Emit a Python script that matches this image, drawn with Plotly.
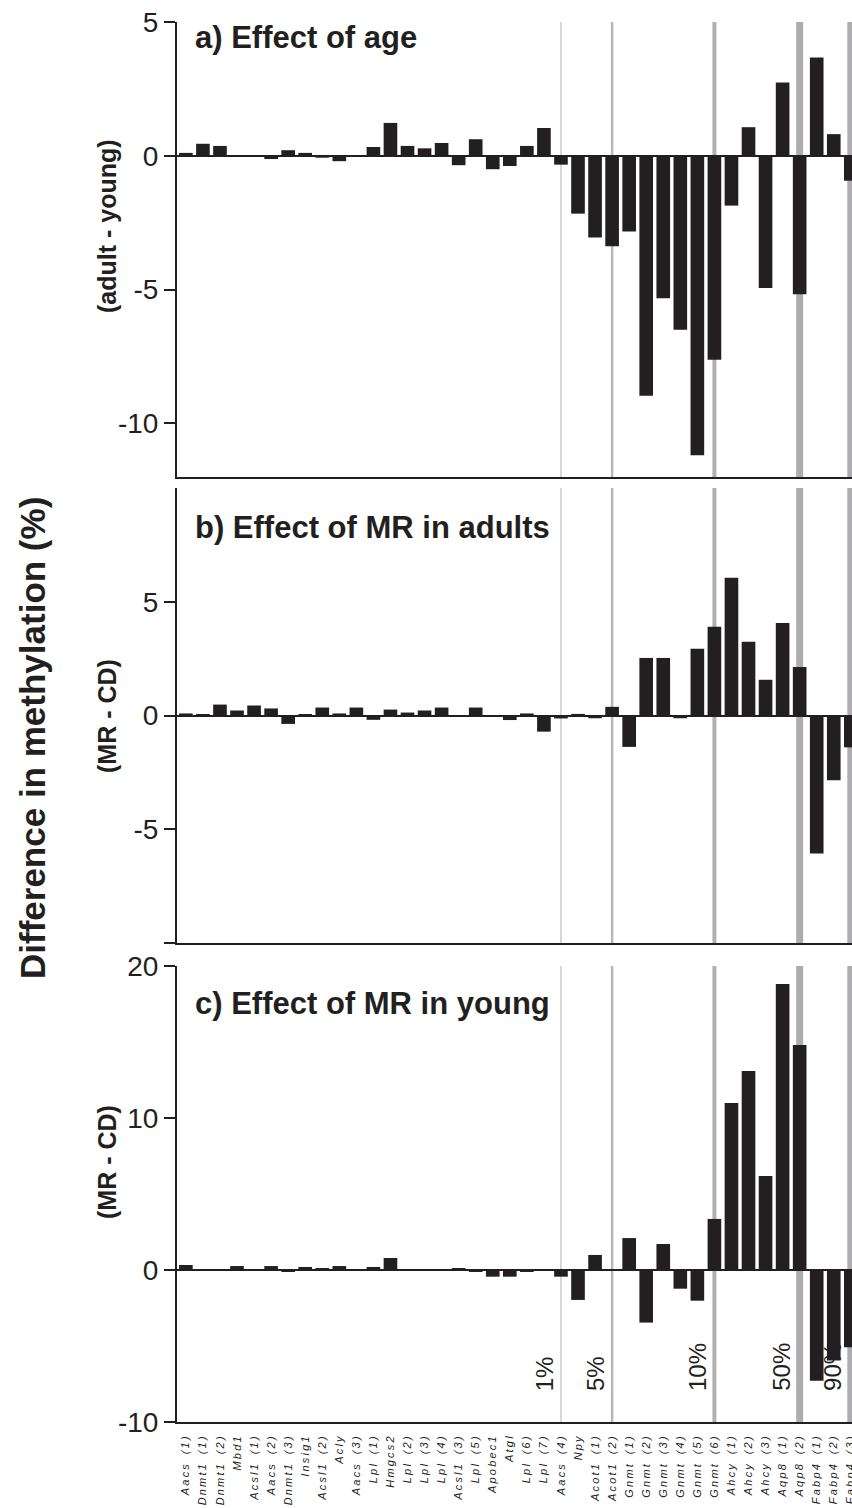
import plotly.graph_objects as go

genes = ["Aacs (1)", "Dnmt1 (1)", "Dnmt1 (2)", "Mbd1", "Acsl1 (1)", "Aacs (2)", "Dnmt1 (3)", "Insig1",
         "Acsl1 (2)", "Acly", "Aacs (3)", "Lpl (1)", "Hmgcs2", "Lpl (2)", "Lpl (3)", "Lpl (4)",
         "Acsl1 (3)", "Lpl (5)", "Apobec1", "Atgl", "Lpl (6)", "Lpl (7)", "Aacs (4)", "Npy",
         "Acot1 (1)", "Acot1 (2)", "Gnmt (1)", "Gnmt (2)", "Gnmt (3)", "Gnmt (4)", "Gnmt (5)", "Gnmt (6)",
         "Ahcy (1)", "Ahcy (2)", "Ahcy (3)", "Aqp8 (1)", "Aqp8 (2)", "Fabp4 (1)", "Fabp4 (2)", "Fabp4 (3)"]

age_effect = [0.11, 0.45, 0.37, 0.0, 0.0, -0.12, 0.21, 0.11, -0.07, -0.2, 0.0, 0.33, 1.23, 0.37, 0.28, 0.48,
              -0.35, 0.62, -0.5, -0.38, 0.37, 1.04, -0.33, -2.16, -3.05, -3.38, -2.83, -8.96, -5.32, -6.5,
              -11.19, -7.62, -1.86, 1.07, -4.94, 2.74, -5.17, 3.67, 0.81, -0.93]

mr_adults = [0.09, 0.05, 0.48, 0.22, 0.44, 0.31, -0.37, 0.05, 0.35, 0.09, 0.35, -0.19, 0.26, 0.13, 0.22, 0.35,
             0.0, 0.35, 0.0, -0.2, 0.09, -0.71, -0.13, 0.07, -0.12, 0.38, -1.38, 2.53, 2.53, -0.12,
             2.93, 3.9, 6.06, 3.24, 1.57, 4.07, 2.13, -6.07, -2.85, -1.4]

mr_young = [0.33, 0.0, 0.0, 0.26, 0.0, 0.26, -0.1, 0.2, 0.13, 0.26, 0.0, 0.2, 0.79, 0.0, 0.0, 0.0,
            0.13, -0.1, -0.44, -0.44, -0.1, 0.0, -0.44, -1.97, 0.99, 0.0, 2.1, -3.46, 1.71, -1.23,
            -2.02, 3.36, 10.99, 13.09, 6.18, 18.82, 14.8, -7.28, -5.96, -5.09]

threshold_genes = ["Aacs (4)", "Acot1 (2)", "Gnmt (6)", "Aqp8 (2)", "Fabp4 (3)"]
threshold_labels = ["1%", "5%", "10%", "50%", "90%"]
threshold_widths = [1.5, 2.5, 4, 7, 7]
threshold_colors = ["#cbcbcb", "#b8b8b8", "#b0b0b2", "#adadb0", "#adadb0"]

panel_titles = ["a) Effect of age", "b) Effect of MR in adults", "c) Effect of MR in young"]
panel_ylabels = ["(adult - young)", "(MR - CD)", "(MR - CD)"]

W, H = 852, 1508
INK = "#231f20"
FONT = "Liberation Sans, Arial, sans-serif"


def py(px):
    return 1 - px / H


# panel pixel extents (top, bottom)
panels = [(22, 477), (488, 943), (966, 1422)]
yranges = [[-12, 5], [-10, 10], [-10, 20]]
yticks = [([-10, -5, 0, 5], ["-10", "-5", "0", "5"]),
          ([-10, -5, 0, 5], ["", "-5", "0", "5"]),
          ([-10, 0, 10, 20], ["-10", "0", "10", "20"])]
series = [age_effect, mr_adults, mr_young]

fig = go.Figure()
x_dom = [177 / W, 1.0]
xrange = [-0.52, 39.07]

spaced = ["\u2009".join(list(g.replace(" ", "\u2002"))) for g in genes]

for k in range(3):
    sfx = "" if k == 0 else str(k + 1)
    fig.add_trace(go.Bar(x=genes, y=series[k], marker=dict(color=INK, line=dict(width=0)),
                         width=0.8, xaxis="x" + sfx, yaxis="y" + sfx, showlegend=False))
    top, bot = panels[k]
    fig.layout["yaxis" + sfx] = dict(
        domain=[py(bot), py(top)], range=yranges[k], anchor="x" + sfx,
        showline=True, linecolor=INK, linewidth=2, ticks="outside", ticklen=11, tickwidth=2,
        tickcolor=INK, tickmode="array", tickvals=yticks[k][0], ticktext=yticks[k][1],
        tickfont=dict(family=FONT, size=28, color=INK), showgrid=False,
        zeroline=True, zerolinecolor=INK, zerolinewidth=2, automargin=False)
    xa = dict(domain=x_dom, range=xrange, anchor="y" + sfx, type="category",
              showline=True, linecolor=INK, linewidth=2, showgrid=False, zeroline=False,
              ticks="", automargin=False)
    if k == 2:
        xa.update(showticklabels=True, tickmode="array", tickvals=genes, ticktext=spaced,
                  tickangle=-90, ticklabelstandoff=8,
                  tickfont=dict(family=FONT, size=11, color=INK, style="italic"))
    else:
        xa.update(showticklabels=False)
    fig.layout["xaxis" + sfx] = xa

    for g, w, c in zip(threshold_genes, threshold_widths, threshold_colors):
        fig.add_shape(type="line", xref="x" + sfx, yref="y" + sfx + " domain",
                      x0=g, x1=g, y0=0, y1=1, layer="below",
                      line=dict(color=c, width=w))

    fig.add_annotation(xref="paper", yref="paper", x=193 / W, y=py([37, 527, 1003][k]),
                       text="<b>" + panel_titles[k] + "</b>", showarrow=False,
                       xanchor="left", yanchor="middle",
                       font=dict(family=FONT, size=31, color=INK))
    fig.add_annotation(xref="paper", yref="paper", x=107 / W, y=py([226, 716, 1162][k]),
                       text="<b>" + panel_ylabels[k] + "</b>", showarrow=False, textangle=-90,
                       xanchor="center", yanchor="middle",
                       font=dict(family=FONT, size=25, color=INK))

for g, lab, w in zip(threshold_genes, threshold_labels, threshold_widths):
    fig.add_annotation(xref="x3", yref="y3", x=g, y=-8.1, text=lab, showarrow=False,
                       textangle=-90, xanchor="right", yanchor="bottom", xshift=-w / 2,
                       font=dict(family=FONT, size=24, color=INK))

fig.add_annotation(xref="paper", yref="paper", x=32 / W, y=py(738),
                   text="<b>Difference in methylation (%)</b>", showarrow=False, textangle=-90,
                   xanchor="center", yanchor="middle",
                   font=dict(family=FONT, size=35, color=INK))

fig.update_layout(width=W, height=H, margin=dict(l=0, r=0, t=0, b=0), template="none",
                  paper_bgcolor="white", plot_bgcolor="white", bargap=0.2, showlegend=False)

fig.write_html("out.html", config={"displayModeBar": False},
               post_script="document.body.style.margin='0';document.body.style.padding='0';"
                           "document.documentElement.style.overflow='hidden';")
